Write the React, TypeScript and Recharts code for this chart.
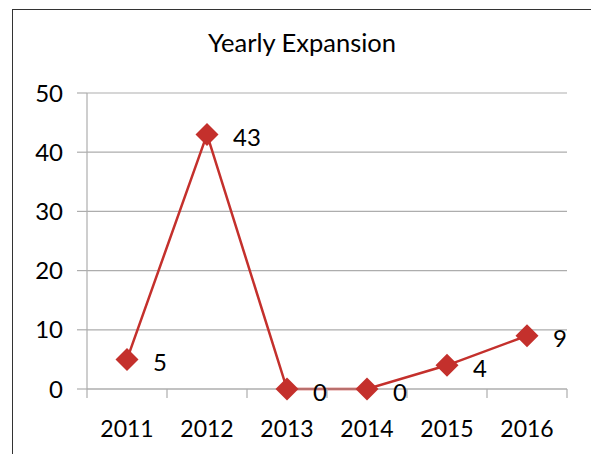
import React from 'react';
import { LineChart, Line, XAxis, YAxis, CartesianGrid, LabelList } from 'recharts';

const years = ['2011', '2012', '2013', '2014', '2015', '2016'];
const expansion = [5, 43, 0, 0, 4, 9];
const yTicks = [0, 10, 20, 30, 40, 50];
const title = 'Yearly Expansion';

const data = years.map((year, i) => ({ year, value: expansion[i] }));

const FONT = 'Lato, "Open Sans", sans-serif';
const RED = '#c4302c';
const GRID = '#adadad';

const Diamond = (props: any) => {
  const { cx, cy } = props;
  if (cx == null || cy == null) return null;
  const r = 11.5;
  return (
    <path
      d={`M${cx},${cy - r}L${cx + r},${cy}L${cx},${cy + r}L${cx - r},${cy}Z`}
      fill={RED}
      stroke="none"
    />
  );
};

const XTick = (props: any) => {
  const { x, y, payload, index, visibleTicksCount } = props;
  const off = payload && payload.offset ? payload.offset : 40;
  const last = index === (visibleTicksCount ?? years.length) - 1;
  const axisY = y - 8;
  return (
    <g>
      <line x1={x - off} x2={x - off} y1={axisY} y2={axisY + 9} stroke={GRID} strokeWidth={1.2} />
      {last && <line x1={x + off} x2={x + off} y1={axisY} y2={axisY + 9} stroke={GRID} strokeWidth={1.2} />}
      <text x={x} y={axisY + 48} textAnchor="middle" fontSize={23} fontFamily={FONT} fill="#000">
        {payload.value}
      </text>
    </g>
  );
};

const ValueLabel = (props: any) => {
  const { x, y, value } = props;
  return (
    <text x={x + 26} y={y + 2} dominantBaseline="central" fontSize={24} fontFamily={FONT} fill="#000">
      {value}
    </text>
  );
};

export default function App() {
  return (
    <div style={{ position: 'absolute', left: 0, top: 0, width: 591, height: 454, overflow: 'hidden', background: '#fff' }}>
      <div
        style={{
          position: 'absolute',
          left: 12,
          top: 9,
          width: 620,
          height: 480,
          border: '1.5px solid #333',
          boxSizing: 'border-box',
        }}
      />
      <div style={{ position: 'absolute', left: 0, top: 0 }}>
        <LineChart width={591} height={454} data={data} margin={{ top: 93, right: 24, bottom: 0, left: 0 }}>
          <text x={302} y={52} textAnchor="middle" fontSize={25.5} fontFamily={FONT} fill="#000">
            {title}
          </text>
          <CartesianGrid vertical={false} stroke={GRID} strokeWidth={1.2} />
          <XAxis
            dataKey="year"
            scale="band"
            height={65}
            axisLine={{ stroke: GRID, strokeWidth: 1.2 }}
            tickLine={false}
            tick={<XTick />}
            interval={0}
          />
          <YAxis
            width={87}
            domain={[0, 50]}
            ticks={yTicks}
            interval={0}
            axisLine={{ stroke: GRID, strokeWidth: 1.2 }}
            tickLine={{ stroke: GRID, strokeWidth: 1.2 }}
            tickSize={10}
            tickMargin={14}
            tick={{ fontSize: 24, fontFamily: FONT, fill: '#000' }}
          />
          <Line
            type="linear"
            dataKey="value"
            stroke={RED}
            strokeWidth={2.5}
            dot={<Diamond />}
            activeDot={false}
            isAnimationActive={false}
          >
            <LabelList dataKey="value" content={<ValueLabel />} />
          </Line>
        </LineChart>
      </div>
    </div>
  );
}
